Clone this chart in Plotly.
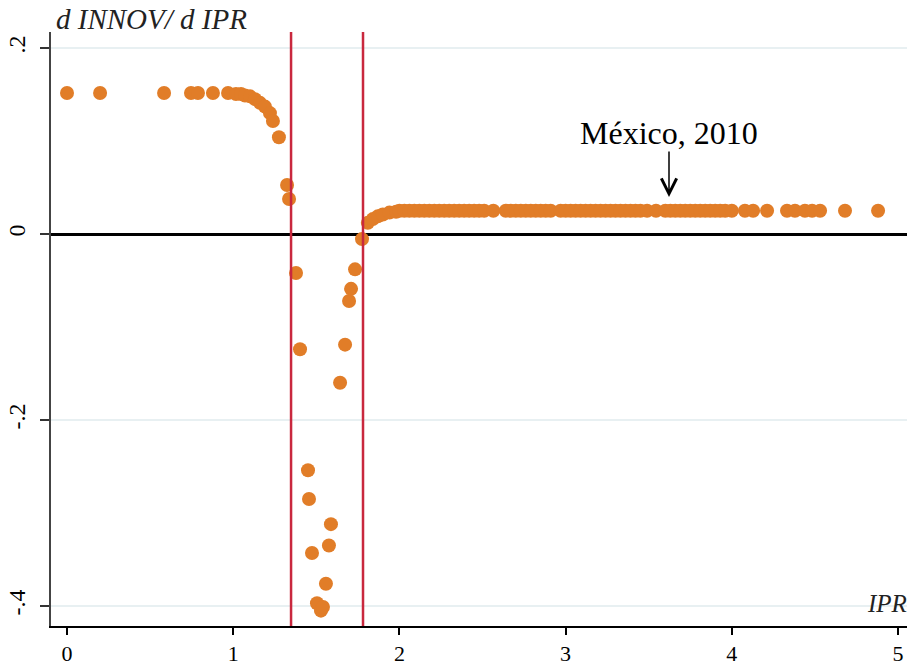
import plotly.graph_objects as go

# IPR values (x) and d INNOV / d IPR values (y)
ipr_left = [0.0, 0.199, 0.584, 0.746, 0.788, 0.878, 0.969, 1.017, 1.047, 1.071,
            1.101, 1.131, 1.161, 1.191, 1.221, 1.239, 1.275, 1.324, 1.336]
deriv_left = [0.1516, 0.1516, 0.1516, 0.1516, 0.1516, 0.1516, 0.1516, 0.1505, 0.1505, 0.149,
              0.148, 0.145, 0.141, 0.137, 0.130, 0.1215, 0.104, 0.0527, 0.0376]

ipr_dip = [1.378, 1.402, 1.450, 1.456, 1.474, 1.504, 1.528, 1.540, 1.558, 1.576,
           1.588, 1.643, 1.673, 1.697, 1.709, 1.733, 1.775]
deriv_dip = [-0.042, -0.124, -0.254, -0.285, -0.343, -0.397, -0.405, -0.401, -0.376, -0.335,
             -0.312, -0.160, -0.119, -0.072, -0.059, -0.038, -0.0055]

ipr_rise = [1.81, 1.84, 1.87, 1.90, 1.94, 1.98]
deriv_rise = [0.012, 0.016, 0.019, 0.021, 0.023, 0.024]

ipr_flat = [2.00, 2.03, 2.06, 2.09, 2.12, 2.15, 2.18, 2.21, 2.24, 2.27, 2.30, 2.33, 2.36,
            2.39, 2.42, 2.45, 2.48, 2.51, 2.565,
            2.64, 2.67, 2.70, 2.73, 2.76, 2.79, 2.82, 2.85, 2.88, 2.91,
            2.97, 3.00, 3.03, 3.06, 3.09, 3.12, 3.15, 3.18, 3.21, 3.24, 3.27, 3.30, 3.33,
            3.36, 3.39, 3.42, 3.45, 3.49, 3.544,
            3.60, 3.63, 3.66, 3.69, 3.72, 3.75, 3.78, 3.81, 3.84, 3.87, 3.90, 3.93, 3.96, 4.00,
            4.079, 4.128, 4.212, 4.332, 4.380, 4.440, 4.483, 4.531, 4.681, 4.880]
deriv_flat = [0.025] * len(ipr_flat)

thresholds = [1.348, 1.781]

x_ticks = [0, 1, 2, 3, 4, 5]
y_ticks = [-0.4, -0.2, 0, 0.2]
y_ticktext = ["-.4", "-.2", "0", ".2"]

mexico_ipr = 3.622
mexico_label = "México, 2010"

x_all = ipr_left + ipr_dip + ipr_rise + ipr_flat
y_all = deriv_left + deriv_dip + deriv_rise + deriv_flat

SERIF = "Liberation Serif, Times New Roman, serif"

fig = go.Figure()
fig.add_trace(go.Scatter(
    x=x_all, y=y_all, mode="markers",
    marker=dict(size=14, color="#e17d28", line=dict(width=0)),
    showlegend=False, hoverinfo="x+y",
))

for t in thresholds:
    fig.add_shape(type="line", xref="x", yref="paper", x0=t, x1=t, y0=0, y1=1,
                  line=dict(color="#c9283e", width=2.5), layer="above")

fig.update_layout(
    width=907, height=666,
    margin=dict(l=51, r=0, t=32, b=40, autoexpand=False),
    plot_bgcolor="white", paper_bgcolor="white",
    font=dict(family=SERIF, color="black"),
    xaxis=dict(
        range=[-0.0963, 5.054], tickvals=x_ticks, ticks="outside", ticklen=7,
        tickwidth=1.5, tickcolor="black", showgrid=False, zeroline=False,
        showline=True, linecolor="black", linewidth=2, automargin=False,
        ticklabelstandoff=0,
        tickfont=dict(family=SERIF, size=22, color="black"),
    ),
    yaxis=dict(
        range=[-0.4215, 0.2172], tickvals=y_ticks, ticktext=y_ticktext,
        tickangle=-90, ticks="outside", ticklen=9, tickwidth=1.5, tickcolor="#333",
        showgrid=True, gridcolor="#e8f0f2", gridwidth=2,
        zeroline=True, zerolinecolor="black", zerolinewidth=2.5,
        showline=True, linecolor="#444", linewidth=1.5, automargin=False,
        ticklabelstandoff=6,
        tickfont=dict(family=SERIF, size=24, color="black"),
    ),
    annotations=[
        dict(text="<i>d INNOV/ d IPR</i>", xref="paper", yref="paper", x=0.004, y=1.022,
             xanchor="left", yanchor="middle", showarrow=False,
             font=dict(family=SERIF, size=29, color="#222")),
        dict(text="<i>IPR</i>", xref="paper", yref="paper", x=0.951, y=0.038,
             xanchor="left", yanchor="middle", showarrow=False,
             font=dict(family=SERIF, size=25, color="#222")),
        dict(text=mexico_label, x=mexico_ipr, y=0.1086, xref="x", yref="y",
             showarrow=False, font=dict(family=SERIF, size=32, color="black")),
        dict(x=mexico_ipr, y=0.0398, ax=mexico_ipr, ay=0.0903, xref="x", yref="y",
             axref="x", ayref="y", text="", showarrow=True, arrowhead=5,
             arrowsize=2.0, arrowwidth=1.5, arrowcolor="black"),
    ],
)

fig.write_html("out.html", config={"displayModeBar": False},
               post_script="document.body.style.margin='0px';document.body.style.overflow='hidden';")
